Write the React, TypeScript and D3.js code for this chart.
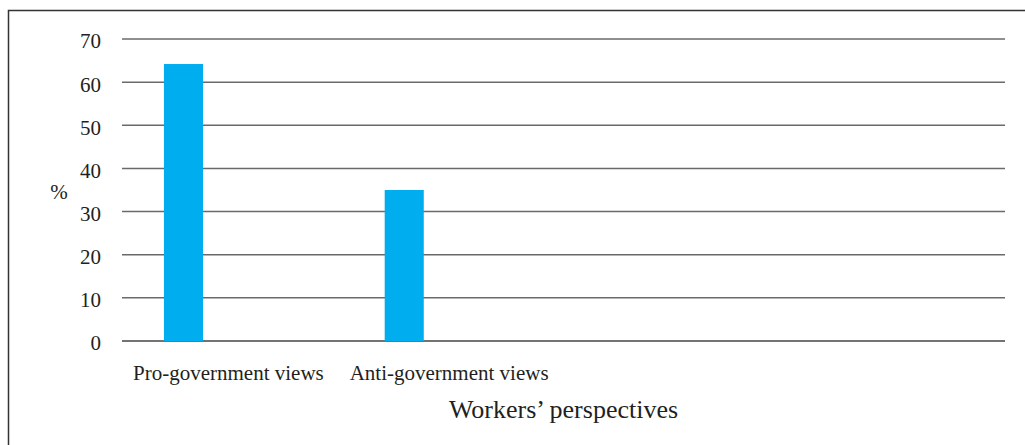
import React from "react";
import * as d3 from "d3";

const categories = ["Pro-government views", "Anti-government views", "", ""];
const values: (number | null)[] = [64.2, 35.0, null, null];
const yTicks = [0, 10, 20, 30, 40, 50, 60, 70];
const yLabel = "%";
const xTitle = "Workers\u2019 perspectives";

const W = 1025;
const H = 445;
const plot = { left: 122, right: 1005, top: 39, bottom: 341 };
const FONT = "'Liberation Serif', 'Times New Roman', serif";

export default function App() {
  const x = d3
    .scaleBand<string>()
    .domain(categories.map((c, i) => String(i)))
    .range([plot.left, plot.right])
    .paddingInner(0)
    .paddingOuter(0);
  const y = d3.scaleLinear().domain([0, 70]).range([plot.bottom, plot.top]);
  const bw = x.bandwidth();
  const barOffset = bw * 0.19;
  const barWidth = bw * 0.177;

  return (
    <svg
      width={W}
      height={H}
      style={{ position: "absolute", left: 0, top: 0, background: "#fff" }}
    >
      <rect x={0} y={0} width={W} height={H} fill="#fff" />
      <rect
        x={8.5}
        y={10.5}
        width={W + 20}
        height={H + 20}
        fill="none"
        stroke="#333"
        strokeWidth={1.5}
      />
      {yTicks.map((t) => (
        <g key={t}>
          <line
            x1={plot.left}
            x2={plot.right}
            y1={y(t)}
            y2={y(t)}
            stroke={t === 0 ? "#444" : "#6a6a6a"}
            strokeWidth={1.5}
          />
          <text
            x={101}
            y={y(t)}
            dy="0.45em"
            textAnchor="end"
            fontFamily={FONT}
            fontSize={21}
            fill="#231f20"
          >
            {t}
          </text>
        </g>
      ))}
      {values.map((v, i) =>
        v == null ? null : (
          <rect
            key={i}
            x={(x(String(i)) as number) + barOffset}
            y={y(v)}
            width={barWidth}
            height={y(0) - y(v)}
            fill="#00aeef"
          />
        )
      )}
      {categories.map((c, i) =>
        c ? (
          <text
            key={i}
            x={(x(String(i)) as number) + bw / 2 - 4}
            y={380}
            textAnchor="middle"
            fontFamily={FONT}
            fontSize={21}
            fill="#231f20"
          >
            {c}
          </text>
        ) : null
      )}
      <text
        x={59}
        y={192}
        dy="0.35em"
        textAnchor="middle"
        fontFamily={FONT}
        fontSize={21}
        fill="#231f20"
      >
        {yLabel}
      </text>
      <text
        x={(plot.left + plot.right) / 2}
        y={418}
        textAnchor="middle"
        fontFamily={FONT}
        fontSize={26}
        fill="#231f20"
      >
        {xTitle}
      </text>
    </svg>
  );
}
